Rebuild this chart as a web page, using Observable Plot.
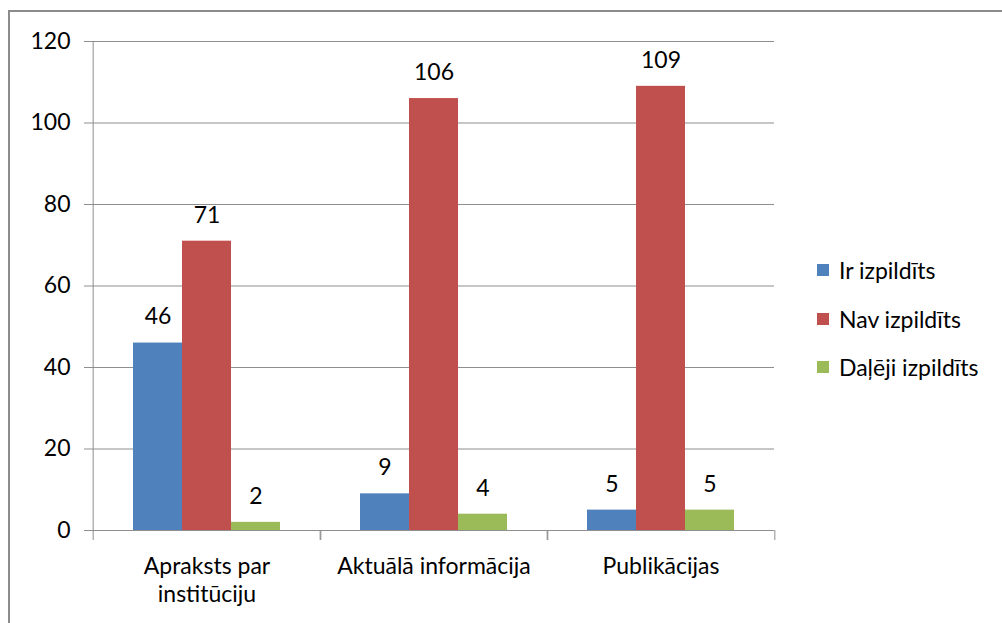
<!DOCTYPE html>
<html>
<head>
<meta charset="utf-8">
<script src="https://cdn.jsdelivr.net/npm/d3@7"></script>
<script src="https://cdn.jsdelivr.net/npm/@observablehq/plot@0.6"></script>
<style>
  html, body { margin: 0; padding: 0; width: 1002px; height: 623px; overflow: hidden; background: #fff; }
  #wrap { position: relative; width: 1002px; height: 623px; font-family: Lato, "Open Sans", sans-serif; }
  #border { position: absolute; left: 8px; top: 10px; width: 1100px; height: 700px; border: 2px solid #8c8c8c; box-sizing: border-box; pointer-events: none; }
  #chart { position: absolute; left: 0; top: 0; }
  #legend { position: absolute; left: 817px; top: 246px; font-size: 23px; color: #000; }
  .li { display: flex; align-items: center; height: 48.5px; }
  .sw { width: 12px; height: 12px; margin-right: 10px; }
</style>
</head>
<body>
<div id="wrap">
  <div id="chart"></div>
  <div id="legend"></div>
  <div id="border"></div>
</div>
<script>
const categories = ["Apraksts par\ninstitūciju", "Aktuālā informācija", "Publikācijas"];
const series = ["Ir izpildīts", "Nav izpildīts", "Daļēji izpildīts"];
const colors = ["#4F81BD", "#C0504D", "#9BBB59"];
const irIzpildits = [46, 9, 5];
const navIzpildits = [71, 106, 109];
const daljejiIzpildits = [2, 4, 5];
const yTicks = [0, 20, 40, 60, 80, 100, 120];

const values = [irIzpildits, navIzpildits, daljejiIzpildits];
const data = [];
categories.forEach((c, i) => series.forEach((s, j) => data.push({cat: c, series: s, value: values[j][i]})));

const W = 1002, H = 623, mL = 92, mR = 227, mT = 41, mB = 93;
const step = (W - mL - mR) / categories.length;
const font = "Lato, 'Open Sans', sans-serif";
const axisColor = "#8e8e8e";
const fs = 23;

const chart = Plot.plot({
  width: W, height: H,
  marginLeft: mL, marginRight: mR, marginTop: mT, marginBottom: mB,
  style: {fontFamily: font, fontSize: fs + "px", color: "#000", background: "transparent"},
  fx: {domain: categories, padding: 0, label: null, axis: null},
  x: {domain: series, paddingInner: 0, paddingOuter: 0.777, axis: null},
  y: {domain: [0, 120], label: null},
  color: {domain: series, range: colors},
  marks: [
    Plot.gridY(yTicks, {stroke: axisColor, strokeOpacity: 1, strokeWidth: 1}),
    Plot.axisY({ticks: yTicks, tickSize: 9, tickPadding: 14, stroke: axisColor, label: null, fontSize: fs}),
    Plot.barY(data, {fx: "cat", x: "series", y: "value", fill: "series"}),
    Plot.ruleY([0], {stroke: axisColor, strokeWidth: 1}),
    Plot.ruleX([categories[0]], {fx: d => d, x: null, y1: 0, y2: 120, dx: -step / 2, stroke: axisColor}),
    Plot.axisFx({anchor: "bottom", tickSize: 0, tickPadding: 23, label: null, fontSize: fs, lineHeight: 1.23}),
    Plot.axisFx({anchor: "bottom", tickSize: 10, tickFormat: () => "", label: null, dx: -step / 2, stroke: axisColor}),
    Plot.axisFx({anchor: "bottom", tickSize: 10, tickFormat: () => "", label: null, dx: step / 2, stroke: axisColor}),
    Plot.text(data, {fx: "cat", x: "series", y: "value", text: d => String(d.value), dy: -26, fontSize: fs, fill: "#000"})
  ]
});
document.getElementById("chart").appendChild(chart);

const legend = document.getElementById("legend");
series.forEach((s, i) => {
  const row = document.createElement("div");
  row.className = "li";
  const sw = document.createElement("div");
  sw.className = "sw";
  sw.style.background = colors[i];
  const t = document.createElement("span");
  t.textContent = s;
  row.appendChild(sw);
  row.appendChild(t);
  legend.appendChild(row);
});
</script>
</body>
</html>
